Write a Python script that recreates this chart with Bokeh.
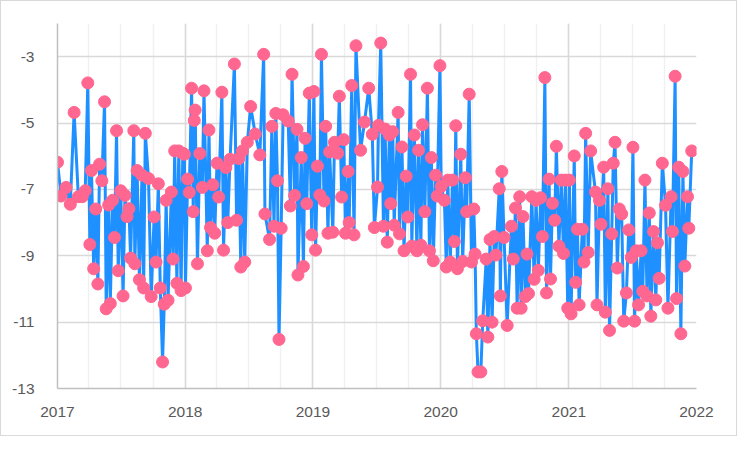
import numpy as np
import pandas as pd
from bokeh.plotting import figure
from bokeh.models import FixedTicker, Range1d, ColumnDataSource
from bokeh.embed import file_html
from bokeh.resources import INLINE

# ---- data ----
# time of each point, in decimal years
t_years = [
    2017.000, 2017.028, 2017.067, 2017.100, 2017.130, 2017.163, 2017.194, 2017.217, 2017.237, 2017.253,
    2017.266, 2017.283, 2017.299, 2017.316, 2017.329, 2017.347, 2017.368, 2017.381, 2017.400, 2017.413,
    2017.431, 2017.446, 2017.462, 2017.475, 2017.495, 2017.513, 2017.528, 2017.544, 2017.559, 2017.572,
    2017.597, 2017.605, 2017.623, 2017.641, 2017.661, 2017.674, 2017.687, 2017.712, 2017.733, 2017.756,
    2017.771, 2017.789, 2017.804, 2017.822, 2017.835, 2017.850, 2017.865, 2017.891,
    2017.904, 2017.917, 2017.934, 2017.949, 2017.967, 2017.980, 2017.993, 2018.001, 2018.018, 2018.031,
    2018.049, 2018.062, 2018.070, 2018.077, 2018.095, 2018.113, 2018.133, 2018.146, 2018.172, 2018.185,
    2018.197, 2018.215, 2018.230, 2018.248, 2018.261, 2018.286, 2018.299, 2018.317, 2018.332, 2018.350,
    2018.384, 2018.401, 2018.419, 2018.434, 2018.447, 2018.465, 2018.485, 2018.511, 2018.547, 2018.583,
    2018.613, 2018.623, 2018.659, 2018.677, 2018.694, 2018.708, 2018.721, 2018.733,
    2018.750, 2018.765, 2018.805, 2018.822, 2018.835, 2018.855, 2018.874, 2018.881, 2018.907, 2018.924,
    2018.937, 2018.950, 2018.970, 2018.989, 2019.006, 2019.019, 2019.034, 2019.052, 2019.065, 2019.085,
    2019.098, 2019.116, 2019.129, 2019.154, 2019.167, 2019.192, 2019.205, 2019.223, 2019.240, 2019.253,
    2019.274, 2019.282, 2019.302, 2019.320, 2019.335, 2019.371, 2019.402, 2019.435, 2019.463, 2019.479,
    2019.504, 2019.511, 2019.529, 2019.550, 2019.563, 2019.580, 2019.596, 2019.607, 2019.623, 2019.634,
    2019.665, 2019.676, 2019.695, 2019.711, 2019.728, 2019.741, 2019.762, 2019.772, 2019.792, 2019.812,
    2019.825, 2019.843, 2019.856, 2019.874, 2019.894, 2019.910, 2019.925, 2019.940, 2019.958, 2019.971,
    2019.992, 2020.002, 2020.027, 2020.042, 2020.053, 2020.073, 2020.090, 2020.105, 2020.116, 2020.129,
    2020.155, 2020.170, 2020.191, 2020.201, 2020.221, 2020.239, 2020.257, 2020.267, 2020.277, 2020.290,
    2020.312, 2020.327, 2020.354, 2020.367, 2020.384, 2020.400, 2020.417, 2020.430, 2020.456, 2020.465,
    2020.476, 2020.494, 2020.518,
    2020.551, 2020.566, 2020.583, 2020.596, 2020.616, 2020.627, 2020.642, 2020.660, 2020.673, 2020.685,
    2020.711, 2020.729, 2020.744, 2020.762, 2020.780, 2020.794, 2020.813, 2020.826, 2020.846, 2020.857,
    2020.872, 2020.890, 2020.903, 2020.923, 2020.941, 2020.959, 2020.974, 2020.992, 2021.005, 2021.018,
    2021.043, 2021.054, 2021.068, 2021.081, 2021.106, 2021.119, 2021.132, 2021.152, 2021.171, 2021.209,
    2021.221, 2021.240, 2021.252, 2021.273, 2021.286, 2021.306, 2021.319, 2021.336, 2021.348, 2021.362,
    2021.380, 2021.395,
    2021.414, 2021.430, 2021.451, 2021.469, 2021.489, 2021.502, 2021.515, 2021.528, 2021.546, 2021.566,
    2021.579, 2021.596, 2021.612, 2021.630, 2021.642, 2021.663, 2021.681, 2021.694, 2021.707, 2021.732,
    2021.757, 2021.776, 2021.801, 2021.811, 2021.832, 2021.843, 2021.860, 2021.877, 2021.893, 2021.908,
    2021.929, 2021.939, 2021.962,
]
values = [
    -6.18, -7.20, -6.94, -7.45, -4.68, -7.22, -7.22, -7.04, -3.79, -8.66,
    -6.43, -9.39, -7.59, -9.85, -6.24, -6.74, -4.36, -10.60, -7.47, -10.44,
    -7.33, -8.45, -5.23, -9.45, -7.04, -10.21, -7.18, -7.82, -7.58, -9.07,
    -5.23, -9.24, -6.43, -9.72, -6.57, -9.97, -5.31, -6.67, -10.23, -7.83,
    -9.19, -6.83, -9.97, -12.20, -10.46, -7.33, -10.34, -7.08,
    -9.10, -5.84, -9.83, -5.84, -10.05, -5.91, -5.94, -9.97, -6.69, -7.09,
    -3.95, -7.67, -4.92, -4.61, -9.24, -5.92, -6.94, -4.03, -8.85, -5.21,
    -8.15, -6.86, -8.32, -6.21, -7.23, -4.07, -8.83, -6.34, -8.00, -6.09,
    -3.22, -7.93, -6.07, -9.34, -5.84, -9.19, -5.58, -4.50, -5.33, -5.96,
    -2.93, -7.74, -8.51, -5.10, -8.11, -4.71, -6.74, -11.52,
    -8.17, -4.75, -4.94, -7.50, -3.53, -7.18, -5.19, -9.58, -6.04, -9.32,
    -5.46, -7.43, -4.10, -8.37, -4.05, -8.83, -6.30, -7.17, -2.93, -7.35,
    -5.10, -8.32, -5.87, -8.29, -5.58, -5.91, -4.19, -7.23, -5.50, -8.32,
    -6.46, -8.00, -3.87, -8.37, -2.67, -5.82, -4.97, -3.95, -5.34, -8.15,
    -6.93, -5.07, -2.59, -8.11, -5.18, -8.59, -5.36, -7.43, -5.26, -8.08,
    -4.68, -8.34, -5.72, -8.85, -6.60, -7.83, -3.53, -8.71, -5.36, -8.85,
    -5.82, -8.68, -5.05, -7.67, -3.95, -8.85, -6.04, -9.15, -6.57, -7.20,
    -3.27, -6.91, -7.33, -9.34, -6.72, -9.19, -6.72, -8.57, -5.08, -9.39,
    -5.94, -9.17, -6.65, -7.67, -4.13, -9.19, -7.59, -8.95, -11.35, -12.50,
    -12.50, -10.96, -9.10, -11.45, -8.51, -11.00, -8.42, -8.98, -6.98, -10.21,
    -6.46, -8.45, -11.10,
    -8.11, -9.10, -7.56, -10.58, -7.22, -10.58, -7.82, -10.23, -8.95, -10.14,
    -7.22, -9.71, -7.33, -9.44, -7.25, -8.42, -3.63, -10.12, -6.69, -9.70,
    -7.42, -7.93, -5.70, -8.71, -6.72, -8.93, -6.72, -10.58, -6.72, -10.75,
    -5.99, -9.80, -8.20, -10.48, -8.20, -9.19, -5.31, -8.90, -5.84, -7.08,
    -10.48, -7.33, -8.05, -6.33, -10.70, -6.98, -11.25, -8.34, -6.21, -5.58,
    -9.37, -7.59,
    -7.74, -10.97, -10.12, -8.22, -9.05, -5.73, -10.97, -8.85, -10.48, -8.85,
    -10.07, -6.72, -10.21, -7.71, -10.82, -8.27, -10.33, -8.61, -9.68, -6.21,
    -7.48, -10.58, -7.22, -8.27, -3.59, -10.29, -6.33, -11.35, -6.46, -9.31,
    -7.22, -8.17, -5.84,
]
year_ticks = ["2017", "2018", "2019", "2020", "2021", "2022"]
y_ticks = [-13, -11, -9, -7, -5, -3]
y_tick_labels = ["-13", "-11", "-9", "-7", "-5", "-3"]

def ms(d):
    return pd.Timestamp(d).value / 1e6

DAY_MS = 86400000.0
base_ms = ms("2017-01-01")
x_ms = [base_ms + (t - 2017.0) * 365.25 * DAY_MS for t in t_years]
source = ColumnDataSource(dict(x=x_ms, y=values))

year_ms = [ms(y + "-01-01") for y in year_ticks]
quarter_ms = [ms(d) for d in pd.date_range("2017-01-01", "2022-01-01", freq="QS")]

p = figure(width=737, height=436, x_axis_type="datetime",
           output_backend="svg", toolbar_location=None,
           min_border_left=56, min_border_right=42,
           min_border_top=22, min_border_bottom=49)
p.x_range = Range1d(year_ms[0], year_ms[-1])
p.y_range = Range1d(-13, -2)
p.styles = {"border": "1px solid #D9D9D9"}

p.line("x", "y", source=source, line_color="#1E90FF", line_width=3)
p.scatter("x", "y", source=source, size=12, fill_color="#FF6690",
          line_color="#FF6690")

p.outline_line_color = None
p.background_fill_color = "white"
p.border_fill_color = "white"

p.xaxis.ticker = FixedTicker(ticks=year_ms, minor_ticks=quarter_ms)
p.xaxis.major_label_overrides = {t: lab for t, lab in zip(year_ms, year_ticks)}
p.yaxis.ticker = FixedTicker(ticks=y_ticks)
p.yaxis.major_label_overrides = {t: lab for t, lab in zip(y_ticks, y_tick_labels)}

for ax in (p.xaxis, p.yaxis):
    ax.axis_line_color = "#BFBFBF"
    ax.axis_line_width = 1.5
    ax.major_tick_line_color = None
    ax.minor_tick_line_color = None
    ax.major_label_text_font = "Liberation Sans"
    ax.major_label_text_font_size = "15.5px"
    ax.major_label_text_color = "#595959"
p.xaxis.major_label_standoff = 12
p.yaxis.major_label_standoff = 17

p.xgrid.grid_line_color = "#D9D9D9"
p.xgrid.minor_grid_line_color = "#F0F0F0"
p.xgrid.grid_line_width = 1.5
p.xgrid.minor_grid_line_width = 1.5
p.ygrid.grid_line_color = "#D9D9D9"
p.ygrid.grid_line_width = 1.5

open("out.html", "w").write(file_html(p, INLINE))
